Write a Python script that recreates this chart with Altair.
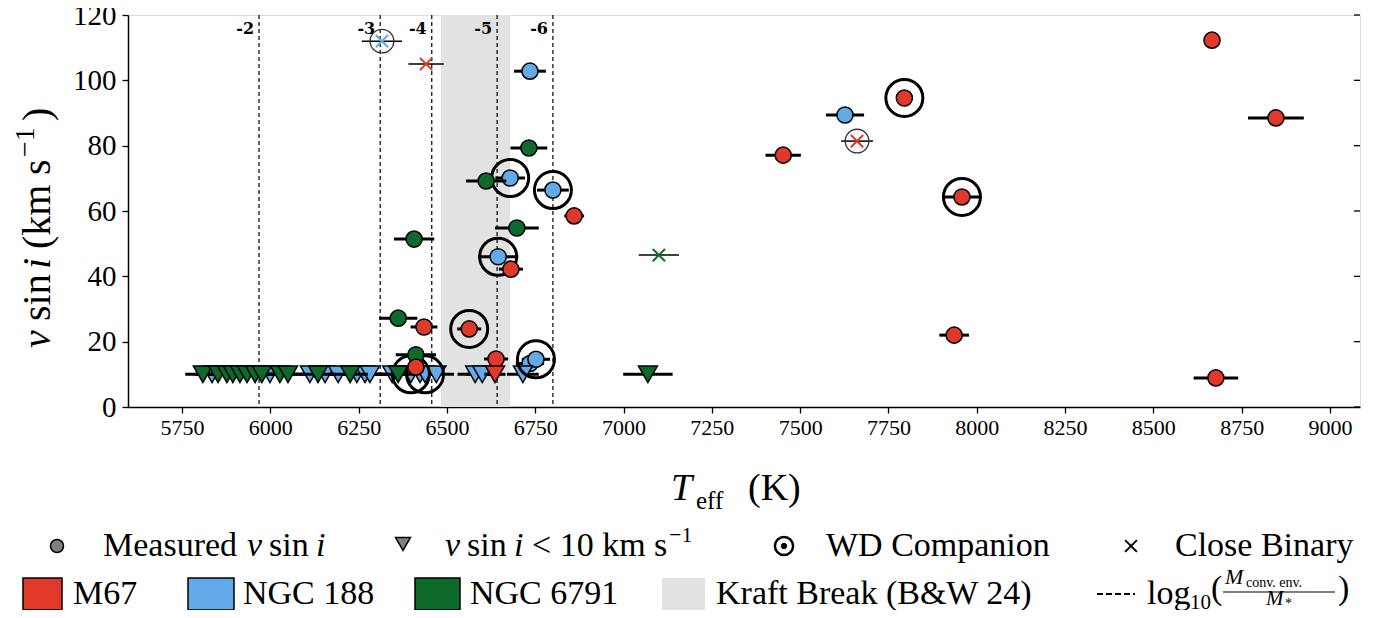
import altair as alt
import pandas as pd

W, H = 1232, 392
XMIN, XMAX = 5597, 9085
FONT = "Liberation Serif"

RED, BLUE, GREEN = "#e0382a", "#62aae8", "#0e6a2b"
KRAFT = "#e2e2e2"

# ---------------- data (Teff, Teff error, vsini) ----------------
# M67
m67_c_T = [8666, 8847, 7795, 7452, 7958, 6860, 6681, 6435, 6563, 7936, 8677, 6639, 6412]
m67_c_e = [5, 79, 14, 50, 55, 28, 34, 38, 34, 42, 63, 34, 25]
m67_c_v = [112.3, 88.5, 94.6, 77.1, 64.3, 58.5, 42.2, 24.5, 23.9, 22.0, 8.9, 14.7, 12.2]
m67_c_wd = [0, 0, 1, 0, 1, 0, 0, 0, 1, 0, 0, 0, 0]
m67_t_T = [6636]
m67_t_e = [30]
m67_t_wd = [0]
m67_x_T = [6441, 7661]
m67_x_e = [50, 45]
m67_x_v = [105.0, 81.4]
m67_x_ring = [0, 1]

# NGC 188
n188_c_T = [6735, 7627, 6679, 6800, 6645, 6735, 6752]
n188_c_e = [45, 54, 42, 45, 57, 40, 40]
n188_c_v = [102.8, 89.4, 70.1, 66.4, 46.0, 13.3, 14.6]
n188_c_wd = [0, 0, 1, 1, 1, 0, 1]
n188_t_T = [5835, 5999, 6112, 6155, 6192, 6245, 6268, 6282, 6345, 6398, 6424, 6438, 6470, 6580, 6600, 6715]
n188_t_e = [50, 50, 50, 50, 50, 50, 50, 50, 50, 50, 50, 50, 50, 50, 45, 45]
n188_t_wd = [0, 0, 0, 0, 0, 0, 0, 0, 0, 1, 0, 1, 0, 0, 0, 0]
n188_x_T = [6316]
n188_x_e = [57]
n188_x_v = [112.0]
n188_x_ring = [1]

# NGC 6791
n6791_c_T = [6732, 6611, 6698, 6407, 6362, 6412]
n6791_c_e = [52, 57, 62, 57, 54, 57]
n6791_c_v = [79.3, 69.2, 54.8, 51.4, 27.2, 16.0]
n6791_c_wd = [0, 0, 0, 0, 0, 0]
n6791_t_T = [5809, 5852, 5877, 5894, 5914, 5934, 5957, 5976, 6027, 6050, 6135, 6226, 6362, 7069]
n6791_t_e = [50, 50, 50, 50, 50, 50, 50, 50, 50, 50, 50, 50, 50, 70]
n6791_t_wd = [0] * 14
n6791_x_T = [7100]
n6791_x_e = [57]
n6791_x_v = [46.5]
n6791_x_ring = [0]

UPPER = 10.0

kraft_lo, kraft_hi = 6483, 6679
conv_T = [5968, 6311, 6457, 6642, 6800]
conv_lab = ["-2", "-3", "-4", "-5", "-6"]

x_ticks = list(range(5750, 9001, 250))
y_ticks = [0, 20, 40, 60, 80, 100, 120]

clusters = ["M67", "NGC 188", "NGC 6791"]
colors = [RED, BLUE, GREEN]


def rows(name, cT, ce, cv, cwd, tT, te, twd, xT, xe, xv, xring):
    out = []
    for T, e, v, w in zip(cT, ce, cv, cwd):
        out.append(dict(cl=name, T=T, lo=T - e, hi=T + e, v=v, kind="c", wd=w, ring=0))
    for T, e, w in zip(tT, te, twd):
        out.append(dict(cl=name, T=T, lo=T - e, hi=T + e, v=UPPER, kind="t", wd=w, ring=0))
    for T, e, v, r in zip(xT, xe, xv, xring):
        out.append(dict(cl=name, T=T, lo=T - e, hi=T + e, v=v, kind="x", wd=0, ring=r))
    return pd.DataFrame(out)


dfs = {
    "M67": rows("M67", m67_c_T, m67_c_e, m67_c_v, m67_c_wd, m67_t_T, m67_t_e, m67_t_wd,
                m67_x_T, m67_x_e, m67_x_v, m67_x_ring),
    "NGC 188": rows("NGC 188", n188_c_T, n188_c_e, n188_c_v, n188_c_wd, n188_t_T, n188_t_e,
                    n188_t_wd, n188_x_T, n188_x_e, n188_x_v, n188_x_ring),
    "NGC 6791": rows("NGC 6791", n6791_c_T, n6791_c_e, n6791_c_v, n6791_c_wd, n6791_t_T,
                     n6791_t_e, n6791_t_wd, n6791_x_T, n6791_x_e, n6791_x_v, n6791_x_ring),
}

xs = alt.Scale(domain=[XMIN, XMAX], nice=False, zero=False)
ys = alt.Scale(domain=[0, 120], nice=False, zero=False)
xaxis = alt.Axis(values=x_ticks, title=None, grid=False, labelFont=FONT, labelFontSize=22,
                 labelColor="black", tickColor="black", tickWidth=1.3, tickSize=6,
                 domainColor="black", domainWidth=1.5, labelPadding=4, format="d")
yaxis = alt.Axis(values=y_ticks, title=None, grid=False, labelFont=FONT, labelFontSize=29,
                 labelColor="black", tickColor="black", tickWidth=1.3, tickSize=6,
                 domainColor="black", domainWidth=1.5, labelPadding=6, format="d")


def X(f):
    return alt.X(f, type="quantitative", scale=xs, axis=xaxis)


def Y(f):
    return alt.Y(f, type="quantitative", scale=ys, axis=yaxis)


layers = []
# Kraft break
layers.append(alt.Chart(pd.DataFrame({"a": [kraft_lo], "b": [kraft_hi]})).mark_rect(
    color=KRAFT).encode(x=X("a"), x2="b", y=alt.value(0), y2=alt.value(H)))
# convective envelope lines
cdf = pd.DataFrame({"T": conv_T, "lab": conv_lab})
layers.append(alt.Chart(cdf).mark_rule(color="black", strokeDash=[4, 3], strokeWidth=1.2).encode(
    x=X("T"), y=alt.value(0), y2=alt.value(H)))
layers.append(alt.Chart(cdf).mark_text(font="DejaVu Serif", fontWeight="bold", fontSize=16,
                                       align="right", dx=-5, baseline="alphabetic",
                                       color="black").encode(
    x=X("T"), y=alt.value(19), text="lab:N"))
# right-side inward ticks
layers.append(alt.Chart(pd.DataFrame({"yt": y_ticks})).mark_rule(color="black", strokeWidth=1.3).encode(
    y=Y("yt"), x=alt.value(W - 6), x2=alt.value(W)))

for name in ["NGC 188", "NGC 6791", "M67"]:
    d = dfs[name]
    col = colors[clusters.index(name)]
    thick = d[d.kind != "x"]
    thin = d[d.kind == "x"]
    layers.append(alt.Chart(thick).mark_rule(color="black", strokeWidth=3).encode(
        x=X("lo"), x2="hi", y=Y("v")))
    if len(thin):
        layers.append(alt.Chart(thin).mark_rule(color="black", strokeWidth=1.5).encode(
            x=X("lo"), x2="hi", y=Y("v")))
    circ = d[d.kind == "c"]
    layers.append(alt.Chart(circ).mark_point(shape="circle", filled=True, size=260, fill=col,
                                             fillOpacity=1, opacity=1, stroke="black",
                                             strokeWidth=1.5).encode(x=X("T"), y=Y("v")))
    tri = d[d.kind == "t"]
    layers.append(alt.Chart(tri).mark_point(shape="triangle-down", filled=True, size=360, fill=col,
                                            fillOpacity=1, opacity=1, stroke="black",
                                            strokeWidth=1.5).encode(x=X("T"), y=Y("v")))
    if len(thin):
        rng = thin[thin.ring == 1]
        if len(rng):
            layers.append(alt.Chart(rng).mark_point(shape="circle", filled=False, size=560,
                                                    stroke="#333333", strokeWidth=1.3,
                                                    opacity=1).encode(x=X("T"), y=Y("v")))
        layers.append(alt.Chart(thin).mark_point(shape="M-1,-1L1,1M-1,1L1,-1", filled=False,
                                                 size=150, stroke=col, strokeWidth=2,
                                                 opacity=1).encode(x=X("T"), y=Y("v")))
    wd = d[d.wd == 1]
    if len(wd):
        layers.append(alt.Chart(wd).mark_point(shape="circle", filled=False, size=1369,
                                               stroke="black", strokeWidth=3,
                                               opacity=1).encode(x=X("T"), y=Y("v")))

# ---------------- titles & legend (pixel-placed decorations) ----------------
dummy = pd.DataFrame({"d": [0]})


def txt(s, x, y, size, style="normal", angle=0, align="left", font=FONT):
    return alt.Chart(dummy).mark_text(text=s, font=font, fontSize=size, fontStyle=style,
                                      align=align, baseline="alphabetic", angle=angle,
                                      color="black").encode(x=alt.value(x), y=alt.value(y))


# x title
layers += [txt("T", 543, 485, 38, "italic"), txt("eff", 568, 494, 25),
           txt("(K)", 620, 485, 38)]
# y title (rotated, reads bottom to top)
yb = -78
YS = 40
layers += [txt("v", yb, 333, YS, "italic", 270), txt("sin", yb, 306, YS, angle=270),
           txt("i", yb, 254, YS, "italic", 270), txt("(km", yb, 234, YS, angle=270),
           txt("s", yb, 160, YS, angle=270), txt("\u22121", yb - 16, 142, 28, angle=270),
           txt(")", yb, 106, YS, angle=270)]

LS = 34
r1, r2 = 541, 589
c1, c2 = 531, 579


def sym(x, y, shape, size, fill=None, stroke="black", sw=1.5):
    kw = dict(shape=shape, size=size, stroke=stroke, strokeWidth=sw, opacity=1)
    if fill is None:
        kw["filled"] = False
    else:
        kw.update(filled=True, fill=fill, fillOpacity=1)
    return alt.Chart(dummy).mark_point(**kw).encode(x=alt.value(x), y=alt.value(y))


def box(x0, x1, y0, y1, fill, stroke="black"):
    kw = dict(fill=fill, opacity=1)
    if stroke:
        kw.update(stroke=stroke, strokeWidth=1.5)
    return alt.Chart(dummy).mark_rect(**kw).encode(
        x=alt.value(x0), x2=alt.value(x1), y=alt.value(y0), y2=alt.value(y1))


layers += [
    sym(-71, c1, "circle", 170, "#808080"),
    txt("Measured", -25, r1, LS), txt("v", 119, r1, LS, "italic"), txt("sin", 141, r1, LS),
    txt("i", 188, r1, LS, "italic"),
    sym(275, c1 - 2, "triangle-down", 220, "#808080"),
    txt("v", 317, r1, LS, "italic"), txt("sin", 339, r1, LS), txt("i", 386, r1, LS, "italic"),
    txt("< 10 km s", 404, r1, LS), txt("\u22121", 541, r1 - 14, 22),
    sym(656, c1, "circle", 330, None, "black", 2.5), sym(656, c1, "circle", 28, "black", "black", 1),
    txt("WD Companion", 698, r1, LS),
    sym(1003, c1, "M-1,-1L1,1M-1,1L1,-1", 140, None, "black", 2),
    txt("Close Binary", 1047, r1, LS),
    box(-105, -66, 563, 595, RED), txt("M67", -55, r2, LS),
    box(60, 106, 563, 595, BLUE), txt("NGC 188", 115, r2, LS),
    box(287, 332, 563, 595, GREEN), txt("NGC 6791", 342, r2, LS),
    box(534, 577, 563, 595, KRAFT, None), txt("Kraft Break (B&W 24)", 588, r2, LS),
    alt.Chart(dummy).mark_rule(color="black", strokeWidth=2, strokeDash=[6, 3]).encode(
        x=alt.value(969), x2=alt.value(1007), y=alt.value(579)),
    txt("log", 1019, r2, LS), txt("10", 1062, r2 + 5, 21), txt("(", 1083, 584, 34),
    txt("M", 1097, 569, 22, "italic"), txt("conv. env.", 1118, 572, 14),
    alt.Chart(dummy).mark_rule(color="black", strokeWidth=1.2).encode(
        x=alt.value(1095), x2=alt.value(1207), y=alt.value(577)),
    txt("M", 1138, 590, 21, "italic"), txt("*", 1157, 593, 14),
    txt(")", 1210, 584, 34),
]

chart = alt.layer(*layers).properties(
    width=W, height=H,
    autosize=alt.AutoSizeParams(type="none"),
    padding={"left": 120, "top": 7, "right": 16, "bottom": 203},
).configure_view(stroke="black", strokeWidth=1.5).configure(background="white")

chart.save("out.html", embed_options={"renderer": "svg", "actions": False})
